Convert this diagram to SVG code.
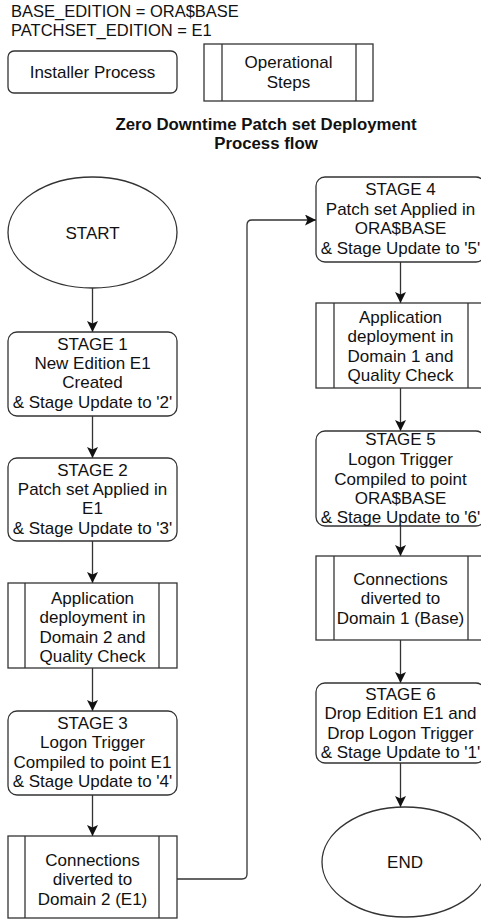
<svg xmlns="http://www.w3.org/2000/svg" width="481" height="921" viewBox="0 0 481 921">
<defs>
<marker id="arr" markerUnits="userSpaceOnUse" markerWidth="12" markerHeight="12" refX="11" refY="5.5" orient="auto">
<path d="M0,0 L11,5.5 L0,11 L2.5,5.5 z" fill="#111"/>
</marker>
</defs>
<style>
.t{font-family:"Liberation Sans",Arial,sans-serif;font-size:17px;fill:#111;text-anchor:middle}
.l{font-family:"Liberation Sans",Arial,sans-serif;font-size:16.5px;fill:#111}
.b{font-family:"Liberation Sans",Arial,sans-serif;font-size:16.8px;font-weight:bold;fill:#111;text-anchor:middle}
.s{fill:#fff;stroke:#333;stroke-width:1.3}
.c{fill:none;stroke:#333;stroke-width:1.3}
</style>
<rect width="481" height="921" fill="#fff"/>
<g id="legend-text">
<text class="l" x="11" y="17">BASE_EDITION = ORA$BASE</text>
<text class="l" x="11" y="36">PATCHSET_EDITION = E1</text>
</g>
<g id="legend-installer">
<rect class="s" x="8" y="51" width="169" height="42" rx="6"/>
<text class="t" x="92.5" y="78">Installer Process</text>
</g>
<g id="legend-operational">
<rect class="s" x="204" y="44" width="169" height="57"/>
<line class="c" x1="222" y1="44" x2="222" y2="101"/>
<line class="c" x1="356" y1="44" x2="356" y2="101"/>
<text class="t" x="288.5" y="68">Operational</text>
<text class="t" x="288.5" y="88">Steps</text>
</g>
<g id="title">
<text class="b" x="266" y="130">Zero Downtime Patch set Deployment</text>
<text class="b" x="266" y="149">Process flow</text>
</g>
<g id="connectors">
<line class="c" x1="92.5" y1="288" x2="92.5" y2="332" marker-end="url(#arr)"/>
<line class="c" x1="92.5" y1="416" x2="92.5" y2="458" marker-end="url(#arr)"/>
<line class="c" x1="92.5" y1="541" x2="92.5" y2="583" marker-end="url(#arr)"/>
<line class="c" x1="92.5" y1="668" x2="92.5" y2="711" marker-end="url(#arr)"/>
<line class="c" x1="92.5" y1="795" x2="92.5" y2="836" marker-end="url(#arr)"/>
<path class="c" d="M177,879 H242 Q247,879 247,874 V225 Q247,220 252,220 H316" marker-end="url(#arr)"/>
<line class="c" x1="400.5" y1="262" x2="400.5" y2="303" marker-end="url(#arr)"/>
<line class="c" x1="400.5" y1="388" x2="400.5" y2="431" marker-end="url(#arr)"/>
<line class="c" x1="400.5" y1="526" x2="400.5" y2="556" marker-end="url(#arr)"/>
<line class="c" x1="400.5" y1="640" x2="400.5" y2="683" marker-end="url(#arr)"/>
<line class="c" x1="400.5" y1="763" x2="400.5" y2="807" marker-end="url(#arr)"/>
</g>
<g id="start">
<ellipse class="s" cx="92.5" cy="232.5" rx="84.5" ry="55.5"/>
<text class="t" x="92.5" y="238.5">START</text>
</g>
<g id="stage1">
<rect class="s" x="8" y="332" width="169" height="84" rx="9"/>
<text class="t" x="92.5" y="349.5">STAGE 1</text>
<text class="t" x="92.5" y="368.5">New Edition E1</text>
<text class="t" x="92.5" y="388">Created</text>
<text class="t" x="92.5" y="407.5">&amp; Stage Update to '2'</text>
</g>
<g id="stage2">
<rect class="s" x="8" y="458" width="169" height="83" rx="9"/>
<text class="t" x="92.5" y="475.5">STAGE 2</text>
<text class="t" x="92.5" y="494.5">Patch set Applied in</text>
<text class="t" x="92.5" y="514">E1</text>
<text class="t" x="92.5" y="533.5">&amp; Stage Update to '3'</text>
</g>
<g id="appdeploy2">
<rect class="s" x="8" y="583" width="169" height="85"/>
<line class="c" x1="25" y1="583" x2="25" y2="668"/>
<line class="c" x1="159" y1="583" x2="159" y2="668"/>
<text class="t" x="92.5" y="603.5">Application</text>
<text class="t" x="92.5" y="623">deployment in</text>
<text class="t" x="92.5" y="642.5">Domain 2 and</text>
<text class="t" x="92.5" y="662">Quality Check</text>
</g>
<g id="stage3">
<rect class="s" x="8" y="711" width="169" height="84" rx="9"/>
<text class="t" x="92.5" y="728.5">STAGE 3</text>
<text class="t" x="92.5" y="748">Logon Trigger</text>
<text class="t" x="92.5" y="767.5">Compiled to point E1</text>
<text class="t" x="92.5" y="787">&amp; Stage Update to '4'</text>
</g>
<g id="connections2">
<rect class="s" x="8" y="836" width="169" height="82"/>
<line class="c" x1="25" y1="836" x2="25" y2="918"/>
<line class="c" x1="159" y1="836" x2="159" y2="918"/>
<text class="t" x="92.5" y="865.5">Connections</text>
<text class="t" x="92.5" y="885">diverted to</text>
<text class="t" x="92.5" y="904.5">Domain 2 (E1)</text>
</g>
<g id="stage4">
<rect class="s" x="316" y="177" width="169" height="85" rx="9"/>
<text class="t" x="400.5" y="194.5">STAGE 4</text>
<text class="t" x="400.5" y="214.5">Patch set Applied in</text>
<text class="t" x="400.5" y="234">ORA$BASE</text>
<text class="t" x="400.5" y="254">&amp; Stage Update to '5'</text>
</g>
<g id="appdeploy1">
<rect class="s" x="316" y="303" width="169" height="85"/>
<line class="c" x1="334" y1="303" x2="334" y2="388"/>
<line class="c" x1="468" y1="303" x2="468" y2="388"/>
<text class="t" x="400.5" y="322.5">Application</text>
<text class="t" x="400.5" y="342">deployment in</text>
<text class="t" x="400.5" y="361.5">Domain 1 and</text>
<text class="t" x="400.5" y="380.5">Quality Check</text>
</g>
<g id="stage5">
<rect class="s" x="316" y="431" width="169" height="95" rx="9"/>
<text class="t" x="400.5" y="445">STAGE 5</text>
<text class="t" x="400.5" y="465">Logon Trigger</text>
<text class="t" x="400.5" y="484.5">Compiled to point</text>
<text class="t" x="400.5" y="503.5">ORA$BASE</text>
<text class="t" x="400.5" y="523">&amp; Stage Update to '6'</text>
</g>
<g id="connections1">
<rect class="s" x="316" y="556" width="169" height="84"/>
<line class="c" x1="334" y1="556" x2="334" y2="640"/>
<line class="c" x1="468" y1="556" x2="468" y2="640"/>
<text class="t" x="400.5" y="584.5">Connections</text>
<text class="t" x="400.5" y="604">diverted to</text>
<text class="t" x="400.5" y="624">Domain 1 (Base)</text>
</g>
<g id="stage6">
<rect class="s" x="316" y="683" width="169" height="80" rx="9"/>
<text class="t" x="400.5" y="699.5">STAGE 6</text>
<text class="t" x="400.5" y="719">Drop Edition E1 and</text>
<text class="t" x="400.5" y="738.5">Drop Logon Trigger</text>
<text class="t" x="400.5" y="758">&amp; Stage Update to '1'</text>
</g>
<g id="end">
<ellipse class="s" cx="405" cy="862" rx="83" ry="55"/>
<text class="t" x="405" y="868">END</text>
</g>
</svg>
